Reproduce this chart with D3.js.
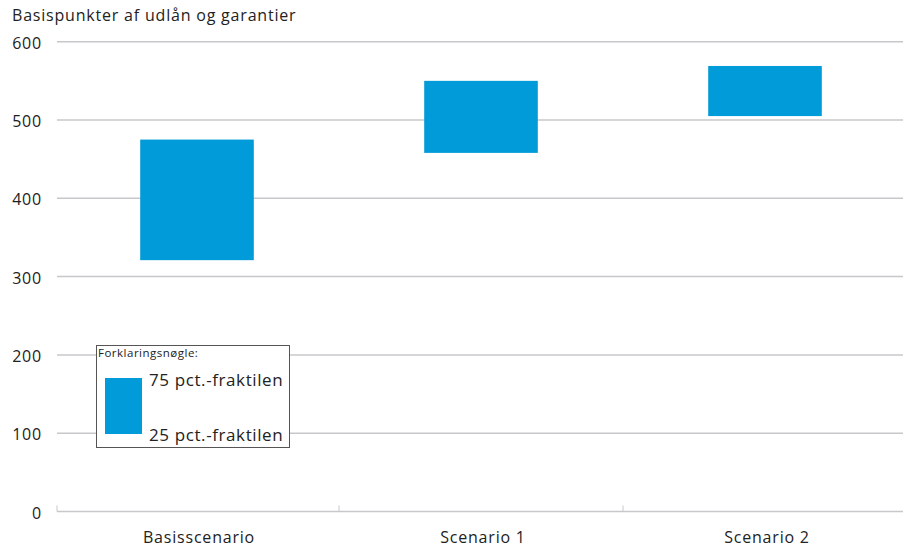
<!DOCTYPE html>
<html>
<head>
<meta charset="utf-8">
<script src="https://cdn.jsdelivr.net/npm/d3@7"></script>
<style>
  html, body { margin: 0; padding: 0; background: #fff; }
  svg { display: block; font-family: "Open Sans", "Noto Sans", sans-serif; }
</style>
</head>
<body>
<svg id="chart" width="903" height="551"></svg>
<script>
// Interquartile range of losses per scenario (basis points of loans and guarantees)
const categories = ["Basisscenario", "Scenario 1", "Scenario 2"];
const q25 = [321, 458, 505];
const q75 = [475, 550, 569];
const yTicks = [0, 100, 200, 300, 400, 500, 600];
const yTitle = "Basispunkter af udlån og garantier";
const legendTitle = "Forklaringsnøgle:";
const legendTop = "75 pct.-fraktilen";
const legendBottom = "25 pct.-fraktilen";

const barColor = "#009bd8";
const gridColor = "#c8c8cc";
const textColor = "#222";
const labelSpacing = "0.8px";

const svg = d3.select("#chart");

const x = d3.scaleBand().domain(categories).range([55, 907]);
const y = d3.scaleLinear().domain([0, 600]).range([511.5, 41.7]);

// Horizontal gridlines
svg.append("g")
  .selectAll("line")
  .data(yTicks.filter(d => d > 0))
  .join("line")
  .attr("x1", 57).attr("x2", 903)
  .attr("y1", d => y(d)).attr("y2", d => y(d))
  .attr("stroke", gridColor).attr("stroke-width", 1.5);

// Baseline with category separators
svg.append("line")
  .attr("x1", 57).attr("x2", 903)
  .attr("y1", y(0)).attr("y2", y(0))
  .attr("stroke", gridColor).attr("stroke-width", 1.5);
svg.append("g")
  .selectAll("line")
  .data(categories)
  .join("line")
  .attr("x1", d => Math.max(57, x(d))).attr("x2", d => Math.max(57, x(d)))
  .attr("y1", y(0)).attr("y2", y(0) - 6)
  .attr("stroke", gridColor).attr("stroke-width", 1);

// Y tick labels
svg.append("g")
  .selectAll("text")
  .data(yTicks)
  .join("text")
  .attr("x", 42)
  .attr("y", d => y(d) + 7)
  .attr("text-anchor", "end")
  .attr("font-size", 16)
  .attr("letter-spacing", labelSpacing)
  .attr("fill", textColor)
  .text(d => d);

// Axis title
svg.append("text")
  .attr("x", 12).attr("y", 21)
  .attr("font-size", 16)
  .attr("letter-spacing", labelSpacing)
  .attr("fill", textColor)
  .text(yTitle);

// Category labels
svg.append("g")
  .selectAll("text")
  .data(categories)
  .join("text")
  .attr("x", d => x(d) + x.bandwidth() / 2 + 2)
  .attr("y", 543)
  .attr("text-anchor", "middle")
  .attr("font-size", 16)
  .attr("letter-spacing", labelSpacing)
  .attr("fill", textColor)
  .text(d => d);

// Floating bars from 25th to 75th percentile
svg.append("g")
  .selectAll("rect")
  .data(categories)
  .join("rect")
  .attr("x", d => x(d) + x.bandwidth() * 0.3)
  .attr("width", x.bandwidth() * 0.4)
  .attr("y", (d, i) => y(q75[i]))
  .attr("height", (d, i) => y(q25[i]) - y(q75[i]))
  .attr("fill", barColor);

// Legend
const lg = svg.append("g");
lg.append("rect")
  .attr("x", 96.5).attr("y", 345.5)
  .attr("width", 193).attr("height", 102)
  .attr("fill", "#fff").attr("stroke", "#555").attr("stroke-width", 1);
lg.append("text")
  .attr("x", 98).attr("y", 357)
  .attr("font-size", 11.5).attr("letter-spacing", "0.5px").attr("fill", textColor)
  .text(legendTitle);
lg.append("rect")
  .attr("x", 105).attr("y", 378)
  .attr("width", 37).attr("height", 56)
  .attr("fill", barColor);
lg.append("text")
  .attr("x", 149).attr("y", 386)
  .attr("font-size", 17).attr("letter-spacing", "0.6px").attr("fill", textColor)
  .text(legendTop);
lg.append("text")
  .attr("x", 149).attr("y", 441)
  .attr("font-size", 17).attr("letter-spacing", "0.6px").attr("fill", textColor)
  .text(legendBottom);
</script>
</body>
</html>
